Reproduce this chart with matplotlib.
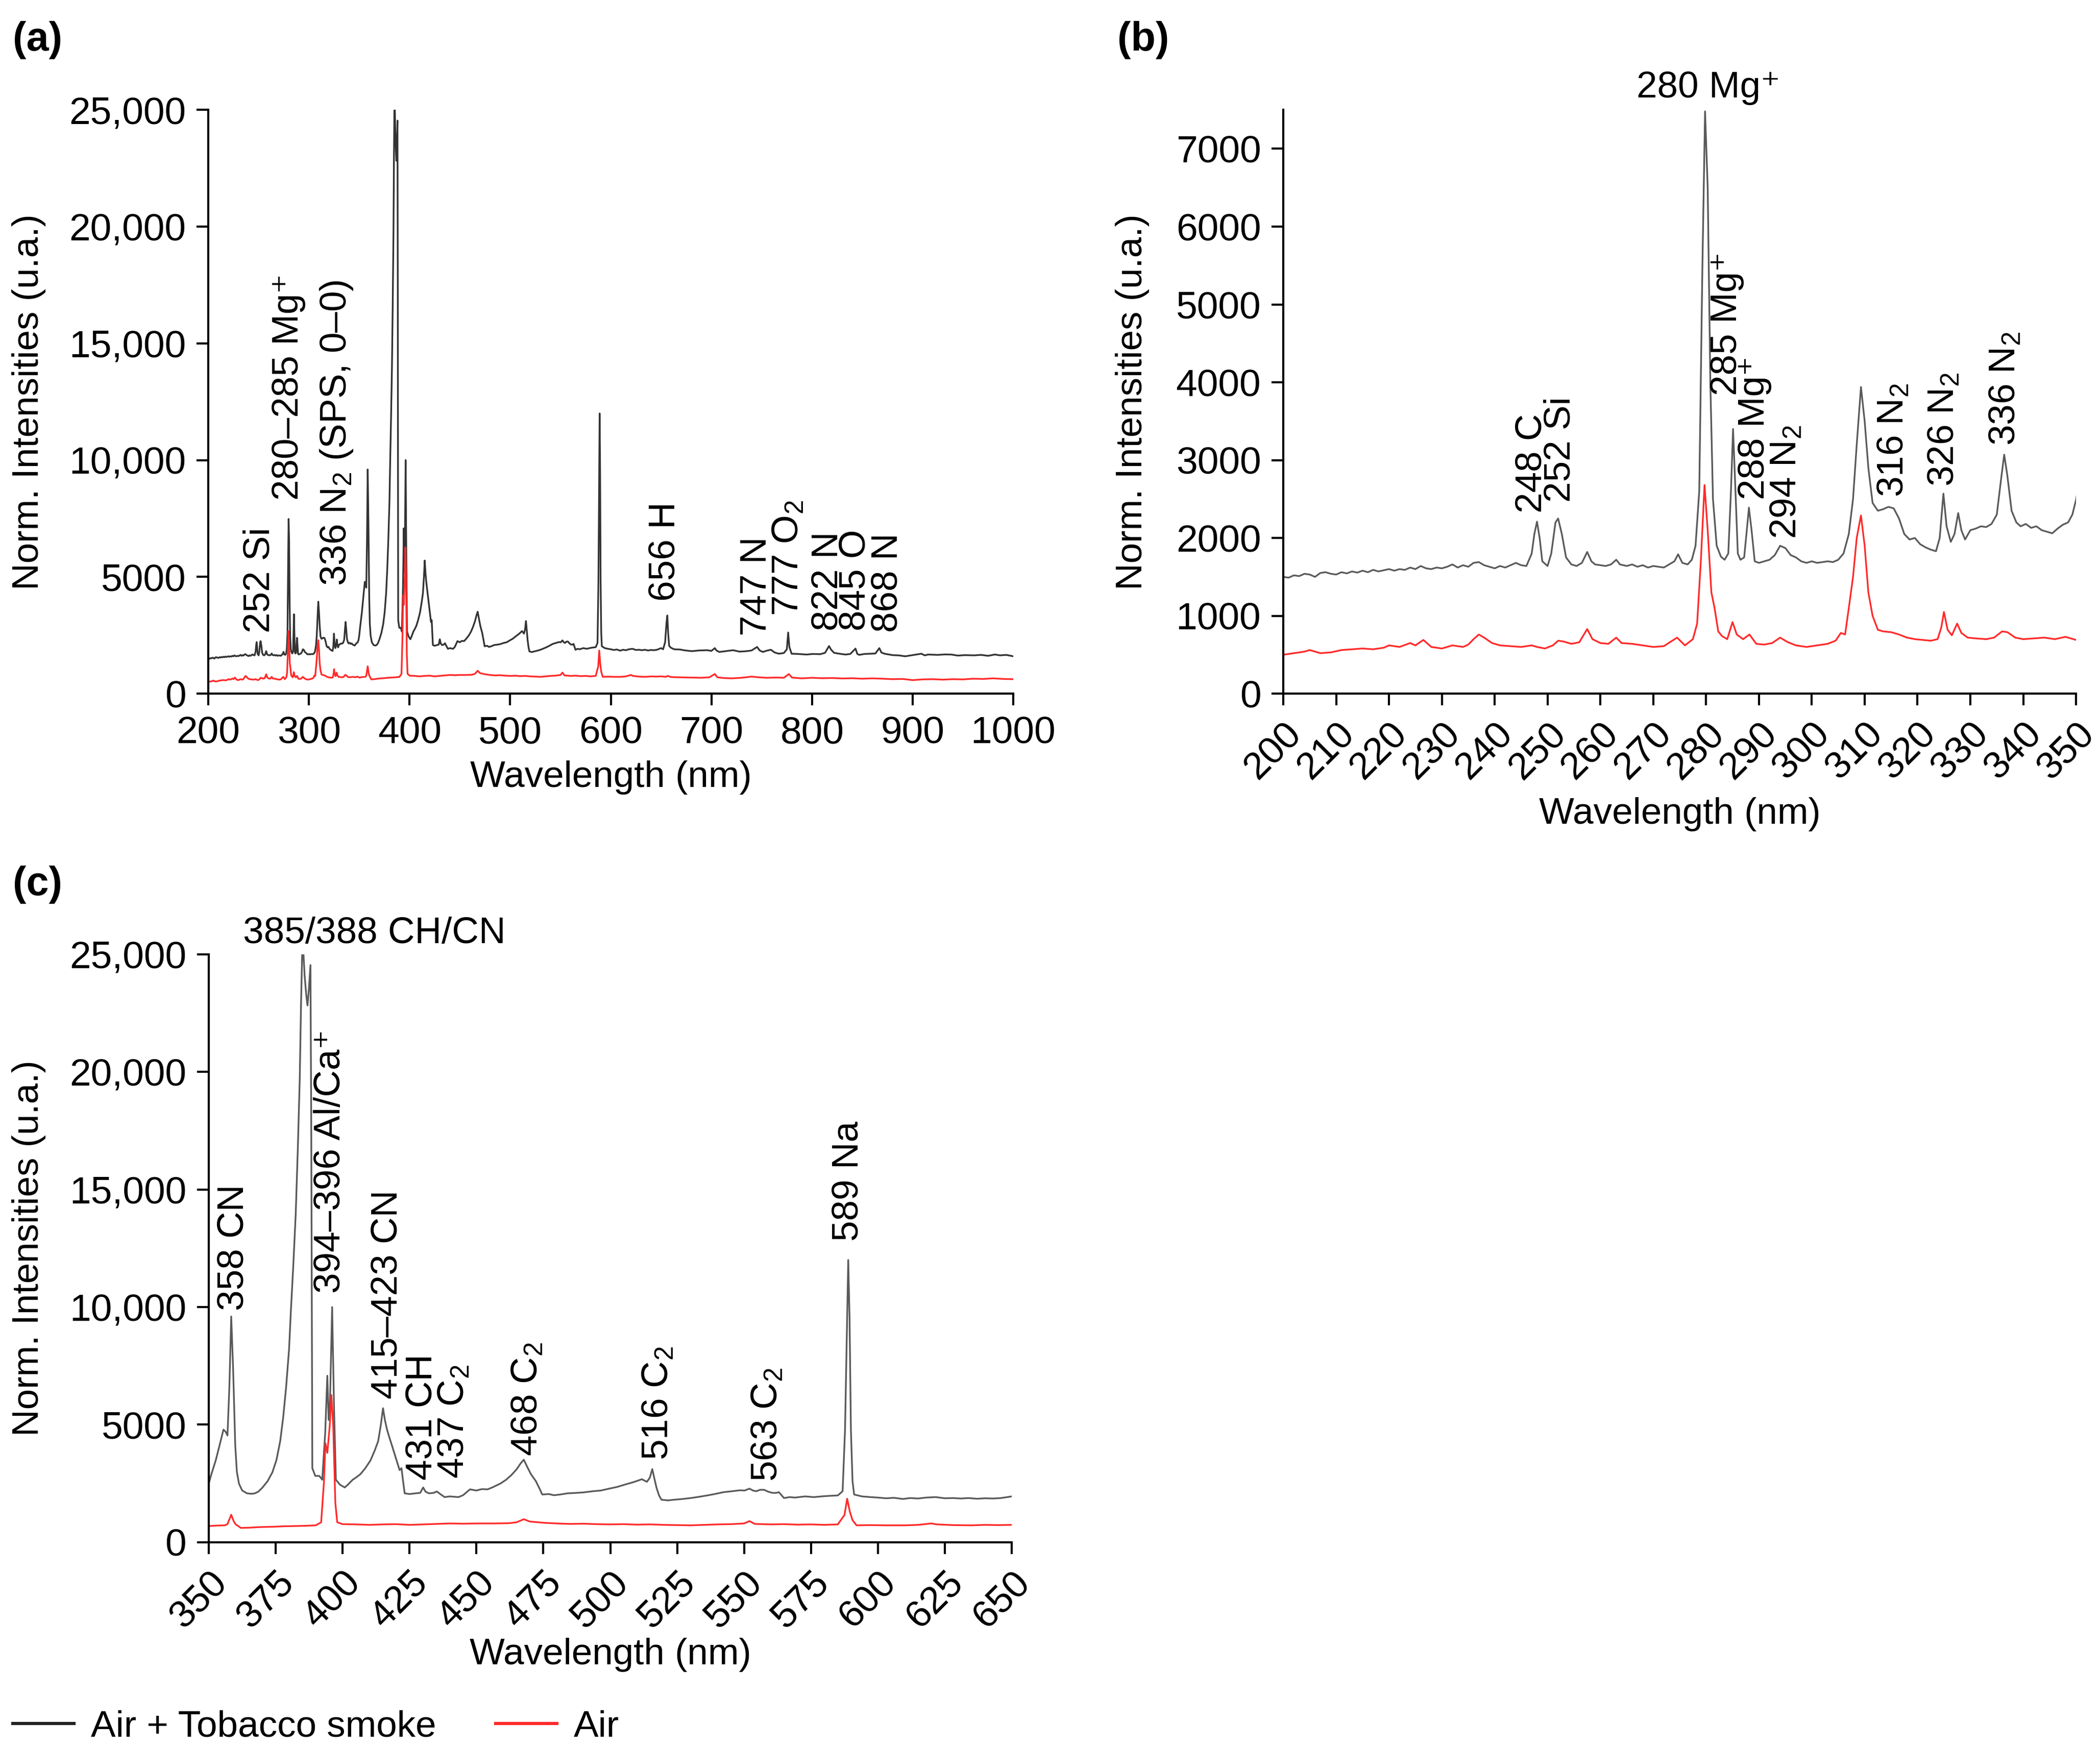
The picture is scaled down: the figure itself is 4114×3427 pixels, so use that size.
import numpy as np
import matplotlib.pyplot as plt
from matplotlib.lines import Line2D
from matplotlib.ticker import FuncFormatter

plt.rcParams['font.family'] = ['Liberation Sans', 'DejaVu Sans']
plt.rcParams['mathtext.fontset'] = 'custom'
plt.rcParams['mathtext.rm'] = 'Liberation Sans'
plt.rcParams['mathtext.it'] = 'Liberation Sans:italic'
plt.rcParams['mathtext.bf'] = 'Liberation Sans:bold'
plt.rcParams['mathtext.default'] = 'regular'

# ---- spectra: (wavelength nm, normalised intensity) ----
smoke_uv = [
    (200, 1500), (201, 1490), (202, 1520), (203, 1510), (204, 1540), (205, 1530),
    (206, 1500), (207, 1550), (208, 1560), (209, 1540), (210, 1530), (211, 1560),
    (212, 1545), (213, 1570), (214, 1555), (215, 1580), (216, 1560), (217, 1590),
    (218, 1570), (219, 1585), (220, 1600), (221, 1580), (222, 1600), (223, 1590),
    (224, 1620), (225, 1600), (226, 1640), (227, 1610), (228, 1600), (229, 1620),
    (230, 1610), (231, 1630), (232, 1660), (233, 1620), (234, 1650), (235, 1630),
    (236, 1680), (237, 1690), (238, 1650), (239, 1630), (240, 1610), (241, 1640),
    (242, 1620), (243, 1650), (244, 1680), (245, 1650), (246, 1640), (247, 1800),
    (247.5, 2050), (248, 2210), (248.5, 2000), (249, 1700), (250, 1640), (250.7, 1800),
    (251.5, 2200), (252, 2250), (252.7, 2050), (253.5, 1750), (254.5, 1660), (255.5, 1640),
    (256.5, 1680), (257.5, 1820), (258.3, 1700), (259, 1660), (260, 1650), (261, 1640),
    (262, 1660), (263, 1720), (263.7, 1660), (265, 1640), (266, 1660), (267, 1630),
    (268, 1650), (269, 1620), (270, 1640), (271, 1630), (272, 1620), (273, 1660),
    (274, 1700), (274.7, 1790), (275.5, 1680), (276.5, 1660), (277.3, 1720), (278, 1900),
    (278.7, 2600), (279.3, 5500), (279.8, 7480), (280.3, 6500), (280.8, 4000), (281.3, 2500),
    (282, 1900), (282.8, 1760), (283.5, 1720), (284.2, 1800), (284.7, 2600), (285.1, 3400),
    (285.5, 2700), (286, 1800), (286.5, 1720), (287.2, 1750), (287.7, 2100), (288.1, 2390),
    (288.6, 2100), (289.2, 1700), (290, 1680), (291, 1700), (292, 1720), (293, 1780),
    (294, 1900), (295, 1870), (296, 1780), (297, 1750), (298, 1700), (299, 1680),
    (300, 1700), (301, 1680), (302, 1690), (303, 1700), (304, 1690), (305, 1720),
    (306, 1800), (307, 2050), (307.8, 2500), (308.5, 3200), (309.3, 3940), (310, 3500),
    (310.7, 2900), (311.5, 2450), (312.5, 2350), (313.5, 2370), (314.5, 2400), (315.5, 2380),
    (316.5, 2250), (317.5, 2050), (318.5, 1980), (319.5, 2000), (320.5, 1920), (321.5, 1880),
    (322.5, 1850), (323.5, 1830), (324.2, 2000), (324.9, 2570), (325.5, 2150), (326.3, 1950),
    (327, 2050), (327.7, 2320), (328.3, 2100), (329, 1980), (330, 2100), (331, 2120),
    (332, 2150), (333, 2140), (334, 2180), (335, 2300), (335.8, 2750), (336.4, 3070),
    (337, 2800), (337.8, 2350), (338.7, 2200), (339.5, 2150), (340.5, 2180), (341.5, 2130),
    (342.5, 2150), (343.5, 2100), (344.5, 2080), (345.5, 2060), (346.5, 2120), (347.5, 2170),
    (348.5, 2200), (349.3, 2300),
]

smoke_vis = [
    (350, 2490), (351, 2900), (352.6, 3475), (354, 4100), (355.5, 4790), (356.3, 4700),
    (357, 4540), (357.7, 6590), (358.4, 9600), (359.1, 7410), (359.9, 4130), (360.5, 3000),
    (361.3, 2490), (362.5, 2200), (364.3, 2080), (366, 2060), (367.2, 2080), (368.5, 2150),
    (370.1, 2330), (372, 2600), (373.8, 2980), (375.3, 3500), (376.7, 4300), (377.8, 5300),
    (378.9, 6590), (380, 8200), (380.7, 9870), (381.6, 11800), (382.5, 13970), (383.3, 16800),
    (384, 19700), (384.5, 23000), (384.9, 25000), (385.4, 25000), (385.8, 24130), (386.4, 23300),
    (386.9, 22820), (387.4, 23500), (388, 24540), (388.3, 17570), (388.5, 10000), (388.7, 3150),
    (389.8, 2820), (391.3, 2820), (392.4, 2660), (393.5, 4620), (394.3, 7080), (394.8, 5200),
    (395.3, 6000), (396.1, 10000), (396.8, 5770), (397.5, 2660), (399, 2450), (400.8, 2330),
    (402, 2450), (403.8, 2660), (405, 2750), (406.7, 2900), (408.5, 3150), (410.4, 3475),
    (412, 3900), (413.3, 4300), (414.3, 5000), (415.1, 5700), (415.8, 5200), (416.6, 4790),
    (417.5, 4450), (418.4, 4130), (419.3, 3800), (420.2, 3475), (421.3, 3070), (422, 3150),
    (422.6, 2600), (423.2, 2080), (425, 2050), (427.2, 2080), (429, 2100), (430.1, 2330),
    (431, 2150), (432.3, 2080), (434, 2100), (435.2, 2160), (436.5, 2050), (438.1, 1920),
    (440, 1950), (443.3, 1920), (445, 2000), (447.6, 2250), (450, 2200), (452, 2260),
    (454.2, 2250), (456.3, 2350), (459, 2500), (461, 2650), (463, 2850), (465, 3100),
    (466.5, 3350), (467.7, 3510), (469, 3200), (470.4, 2890), (472.2, 2600), (473.5, 2300),
    (474.6, 2030), (477, 2050), (479, 2000), (481.3, 2030), (484, 2080), (487.4, 2100),
    (490, 2120), (493.5, 2170), (496.5, 2200), (499.6, 2280), (502.5, 2350), (505.7, 2460),
    (508.8, 2560), (511.8, 2680), (513.7, 2570), (514.8, 2750), (515.7, 3110), (516.5, 2700),
    (517.3, 2310), (518.2, 2000), (519.1, 1810), (521.5, 1780), (524, 1810), (527, 1840),
    (530.1, 1880), (533, 1930), (536.2, 1990), (539, 2050), (542.3, 2130), (545.5, 2170),
    (548.4, 2210), (550.2, 2200), (552, 2280), (553.3, 2200), (554.5, 2170), (556, 2230),
    (557.5, 2230), (559, 2150), (560.6, 2100), (562, 2100), (563, 2130), (564.9, 1880),
    (567, 1920), (569, 1900), (572.8, 1950), (576, 1920), (580, 1960), (583, 1980),
    (585, 1990), (586.8, 2170), (587.7, 4770), (588.4, 9000), (588.9, 12000), (589.4, 9500),
    (589.9, 4770), (590.5, 2600), (591.1, 2030), (594, 1950), (597.2, 1920), (600, 1900),
    (603, 1870), (606, 1890), (609.4, 1840), (612, 1880), (615, 1860), (618, 1900),
    (621.6, 1920), (625, 1870), (628, 1880), (631, 1860), (633.8, 1880), (637, 1850),
    (640, 1870), (643, 1860), (646, 1880), (650, 1950),
]

smoke_nir = [
    (652, 1900), (654, 2200), (655.3, 3000), (656.2, 3350), (657, 2600), (658, 2050),
    (659.6, 1970), (663, 1900), (668.7, 1890), (674, 1850), (680.6, 1820), (688, 1850),
    (696, 1860), (700, 1830), (703.4, 1950), (705, 1850), (707.8, 1785), (714, 1820),
    (721.5, 1860), (728, 1800), (735.2, 1820), (740, 1850), (745.4, 2000), (748, 1850),
    (751.1, 1785), (755, 1840), (759.1, 1880), (763, 1760), (767.1, 1710), (772, 1740),
    (775, 1900), (776.3, 2620), (777.5, 2000), (779.7, 1710), (786, 1700), (794.5, 1675),
    (801, 1700), (808.2, 1690), (813, 1750), (816.9, 2040), (819, 1880), (821.9, 1750),
    (827, 1710), (833.3, 1675), (838, 1700), (843.2, 1930), (845, 1700), (847, 1660),
    (852, 1700), (858.4, 1710), (863, 1720), (866.9, 1950), (869, 1760), (872.1, 1710),
    (880, 1650), (886, 1640), (892.7, 1600), (900, 1650), (908.7, 1710), (912, 1640),
    (915.5, 1675), (925, 1660), (932, 1680), (938.4, 1675), (945, 1630), (952, 1650),
    (961.2, 1640), (968, 1660), (975, 1620), (981.7, 1675), (987, 1640), (993, 1660),
    (1000, 1600),
]

air_uv = [
    (200, 500), (202, 520), (204, 540), (205, 560), (207, 520), (209, 530), (211, 560),
    (213, 570), (215, 580), (217, 570), (219, 590), (220, 620), (222, 600), (224, 650),
    (225, 620), (226.5, 690), (228, 600), (230, 580), (232, 620), (234, 600), (235, 630),
    (236, 700), (237, 760), (238, 720), (239.5, 650), (241, 620), (243, 610), (245, 600),
    (247, 620), (248, 600), (249.5, 580), (251, 620), (252, 680), (253, 670), (254.5, 640),
    (256, 660), (257.5, 830), (258.5, 700), (260, 650), (261.5, 640), (263, 720), (264, 650),
    (266, 640), (268, 620), (270, 600), (272, 610), (274.5, 720), (276, 620), (277.5, 700),
    (278.3, 900), (279, 1700), (279.7, 2680), (280.3, 2100), (281, 1300), (281.6, 1100),
    (282.3, 800), (283, 740), (284, 700), (285, 920), (285.8, 760), (287, 700), (288.2, 760),
    (289.5, 640), (291, 630), (292.5, 650), (294, 720), (295.5, 660), (297, 620), (299, 600),
    (301, 620), (303, 640), (304.5, 680), (305.5, 780), (306.3, 760), (307, 1100),
    (307.8, 1500), (308.5, 2000), (309.3, 2290), (310, 1900), (310.7, 1300), (311.5, 1000),
    (312.5, 820), (313.5, 800), (315, 790), (316.5, 760), (318, 720), (319.5, 700),
    (321, 690), (322.5, 680), (323.8, 700), (324.5, 850), (325, 1050), (325.7, 820),
    (326.5, 750), (327.5, 900), (328.3, 780), (329.5, 720), (331, 710), (333, 700),
    (334.5, 720), (336, 800), (337, 790), (338.5, 720), (340, 700), (342, 710), (344, 720),
    (346, 700), (348, 730),
]

air_vis = [
    (350, 690), (353, 710), (356, 720), (357, 770), (358.4, 1170), (359.3, 900), (360, 770),
    (362, 610), (365, 620), (368, 640), (370, 650), (374, 660), (378, 680), (382, 690),
    (386, 700), (390, 720), (392, 850), (393, 2490), (393.6, 4210), (394.3, 3800),
    (395.2, 4950), (395.8, 6260), (396.5, 4950), (397.3, 1670), (398, 850), (400, 770),
    (405, 760), (410, 740), (415, 760), (420, 770), (425, 740), (430, 760), (435, 780),
    (440, 800), (445, 790), (450, 800), (456, 800), (462, 810), (465, 850), (467.7, 980),
    (470, 880), (475, 830), (480, 800), (485, 780), (490, 790), (495, 770), (500, 760),
    (505, 770), (510, 750), (515, 760), (520, 740), (525, 730), (530, 720), (535, 740),
    (540, 760), (545, 770), (550, 800), (552, 900), (554, 780), (560, 760), (565, 770),
    (570, 750), (575, 760), (580, 740), (585, 760), (587.5, 1160), (588.5, 1850),
    (589.5, 1300), (590.5, 940), (592, 720), (597, 730), (603, 720), (610, 720), (615, 740),
    (620, 800), (622, 760), (628, 730), (635, 720), (640, 740), (645, 730), (650, 740),
]

air_nir = [
    (655, 720), (656.3, 760), (660, 710), (668, 700), (680, 690), (690, 680), (698, 700),
    (703.4, 840), (706, 700), (712, 670), (720, 655), (730, 680), (740, 730), (747, 700),
    (755, 680), (765, 690), (772, 680), (777, 840), (780, 690), (790, 655), (800, 680),
    (810, 660), (820, 670), (830, 650), (840, 660), (850, 640), (860, 655), (870, 640),
    (880, 620), (890, 630), (900, 580), (910, 610), (920, 620), (930, 600), (940, 620),
    (950, 610), (960, 640), (970, 630), (980, 655), (990, 630), (1000, 620),
]

# peak labels: (text, wavelength, intensity, rotation)
labels_a = [
    ("252 Si", 251, 2600, 90),
    ("280\u2013285 Mg\u207a", 280, 8290, 90),
    ("336 N$_2$ (SPS, 0\u20130)", 327.6, 4620, 90),
    ("656 H", 654, 3950, 90),
    ("747 N", 745, 2480, 90),
    ("777 O$_2$", 777, 3320, 90),
    ("822 N", 816, 2700, 90),
    ("845 O", 843, 2700, 90),
    ("868 N", 875, 2620, 90),
]
labels_b = [
    ("280 Mg\u207a", 280.4, 7560, 0),
    ("248 C", 247, 2320, 90),
    ("252 Si", 252.4, 2457, 90),
    ("285 Mg\u207a", 284, 3830, 90),
    ("288 Mg\u207a", 289.2, 2490, 90),
    ("294 N$_2$", 295.2, 1990, 90),
    ("316 N$_2$", 315.5, 2525, 90),
    ("326 N$_2$", 325.1, 2663, 90),
    ("336 N$_2$", 336.7, 3190, 90),
]
labels_c = [
    ("385/388 CH/CN", 411.8, 25150, 0),
    ("358 CN", 359.3, 9840, 90),
    ("394\u2013396 Al/Ca\u207a", 395.5, 10577, 90),
    ("415\u2013423 CN", 416.8, 6090, 90),
    ("431 CH", 429.8, 2640, 90),
    ("437 C$_2$", 441.8, 2710, 90),
    ("468 C$_2$", 469.3, 3670, 90),
    ("516 C$_2$", 518, 3500, 90),
    ("563 C$_2$", 558.9, 2590, 90),
    ("589 Na", 589, 12800, 90),
]

smoke = np.array(smoke_uv + smoke_vis + smoke_nir)
air = np.array(air_uv + air_vis + air_nir)

FS = 17.5
RED = '#ff2a2a'


def comma_fmt(v, pos):
    v = int(round(v))
    return f"{v:,}" if v >= 10000 else str(v)


def style(ax):
    for s in ['top', 'right']:
        ax.spines[s].set_visible(False)
    for s in ['left', 'bottom']:
        ax.spines[s].set_linewidth(1.0)
    ax.tick_params(direction='out', length=5.5, width=1.0, labelsize=18, pad=5)


fig = plt.figure(figsize=(4114 / 300, 3427 / 300), dpi=300)

ax_a = fig.add_axes([0.0992, 0.6034, 0.3833, 0.3338])
ax_b = fig.add_axes([0.6111, 0.6034, 0.3775, 0.3338])
ax_c = fig.add_axes([0.0994, 0.1182, 0.3824, 0.3362])

# (a)
ax_a.plot(smoke[:, 0], smoke[:, 1], color='#333333', lw=0.8)
ax_a.plot(air[:, 0], air[:, 1], color=RED, lw=0.8)
ax_a.set_xlim(200, 1000)
ax_a.set_ylim(0, 25000)
ax_a.set_xticks(range(200, 1001, 100))
ax_a.set_yticks(range(0, 25001, 5000))
ax_a.yaxis.set_major_formatter(FuncFormatter(comma_fmt))

# (b)
ax_b.plot(smoke[:, 0], smoke[:, 1], color='#5a5a5a', lw=0.8)
ax_b.plot(air[:, 0], air[:, 1], color=RED, lw=0.8)
ax_b.set_xlim(200, 350)
ax_b.set_ylim(0, 7500)
ax_b.set_xticks(range(200, 351, 10))
ax_b.set_yticks(range(0, 7001, 1000))

# (c)
ax_c.plot(smoke[:, 0], smoke[:, 1], color='#5a5a5a', lw=0.8)
ax_c.plot(air[:, 0], air[:, 1], color=RED, lw=0.8)
ax_c.set_xlim(350, 650)
ax_c.set_ylim(0, 25000)
ax_c.set_xticks(range(350, 651, 25))
ax_c.set_yticks(range(0, 25001, 5000))
ax_c.yaxis.set_major_formatter(FuncFormatter(comma_fmt))

for ax in (ax_a, ax_b, ax_c):
    style(ax)
    ax.set_ylabel("Norm. Intensities (u.a.)", fontsize=FS)
    ax.set_xlabel("Wavelength (nm)", fontsize=FS)

for ax in (ax_b, ax_c):
    plt.setp(ax.get_xticklabels(), rotation=45, ha='right', rotation_mode='anchor')

ax_a.yaxis.set_label_coords(-0.202, 0.5)
ax_b.yaxis.set_label_coords(-0.169, 0.5)
ax_c.yaxis.set_label_coords(-0.203, 0.5)
ax_a.xaxis.set_label_coords(0.5, -0.114)
ax_b.xaxis.set_label_coords(0.5, -0.177)
ax_c.xaxis.set_label_coords(0.5, -0.162)

for ax, labs in ((ax_a, labels_a), (ax_b, labels_b), (ax_c, labels_c)):
    for txt, x, y, rot in labs:
        ax.text(x, y, txt, rotation=rot, ha='center', va='bottom',
                fontsize=FS, clip_on=False)

fig.text(0.006, 0.988, "(a)", fontsize=19, fontweight='bold', va='top', ha='left')
fig.text(0.532, 0.988, "(b)", fontsize=19, fontweight='bold', va='top', ha='left')
fig.text(0.006, 0.505, "(c)", fontsize=19, fontweight='bold', va='top', ha='left')

handles = [Line2D([], [], color='#222222', lw=1.5),
           Line2D([], [], color=RED, lw=1.5)]
fig.legend(handles, ["Air + Tobacco smoke", "Air"], loc='center left',
           bbox_to_anchor=(0.006, 0.0125), ncol=2, frameon=False, fontsize=FS,
           handlelength=1.65, handletextpad=0.45, columnspacing=1.6,
           borderpad=0, borderaxespad=0)

fig.savefig("out.png", dpi=300)
